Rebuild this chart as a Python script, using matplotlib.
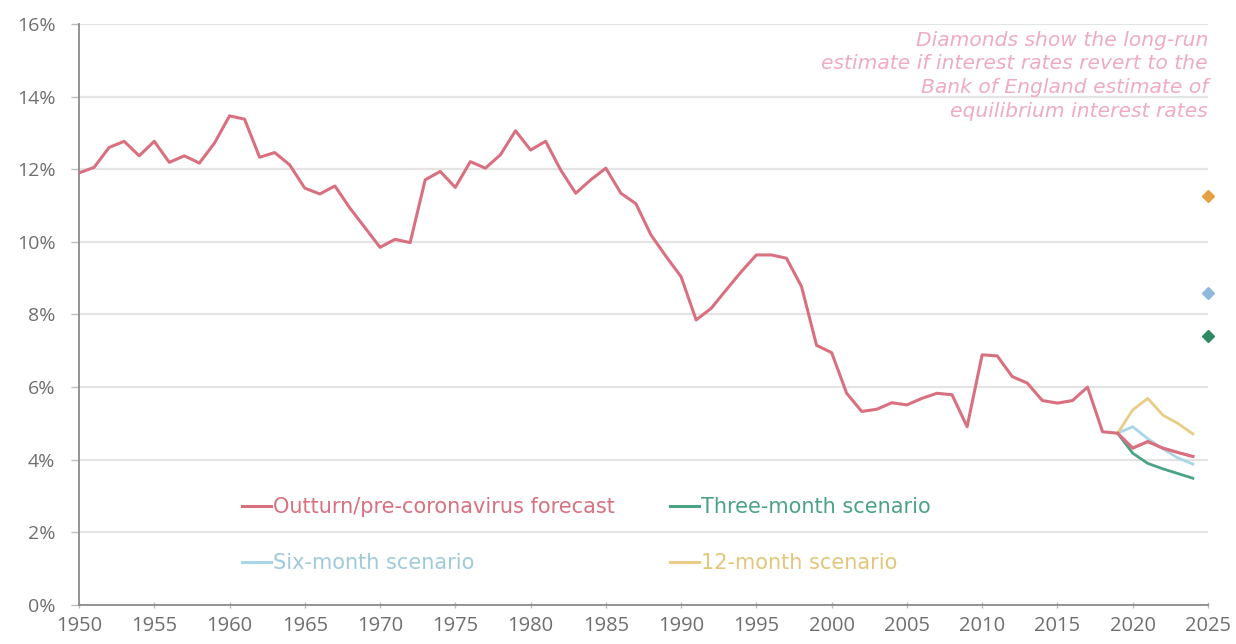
import matplotlib
matplotlib.use("Agg")
import matplotlib.pyplot as plt
from matplotlib.lines import Line2D

# Outturn / pre-coronavirus forecast, 1950-2024 (%)
years = list(range(1950, 2025))
outturn = [11.9, 12.05, 12.6, 12.77, 12.37, 12.77, 12.19, 12.37, 12.17, 12.72,
           13.47, 13.38, 12.33, 12.46, 12.12, 11.48, 11.32, 11.54, 10.93, 10.39,
           9.85, 10.07, 9.98, 11.71, 11.94, 11.5, 12.21, 12.03, 12.4, 13.06,
           12.53, 12.77, 11.98, 11.34, 11.71, 12.03, 11.34, 11.05, 10.19, 9.6,
           9.04, 7.85, 8.17, 8.68, 9.18, 9.64, 9.64, 9.55, 8.77, 7.15,
           6.95, 5.83, 5.33, 5.39, 5.57, 5.51, 5.69, 5.83, 5.79, 4.91,
           6.89, 6.86, 6.29, 6.11, 5.63, 5.56, 5.63, 6.0, 4.77, 4.73,
           4.32, 4.5, 4.32, 4.2, 4.09]

# Scenario paths, 2019-2024
scen_years = [2019, 2020, 2021, 2022, 2023, 2024]
three_month = [4.73, 4.18, 3.9, 3.75, 3.62, 3.49]
six_month = [4.73, 4.91, 4.58, 4.3, 4.05, 3.88]
twelve_month = [4.73, 5.37, 5.69, 5.23, 5.0, 4.71]

# Long-run estimates (diamonds) in 2025
diamond_year = 2025
diamond_twelve = 11.27
diamond_six = 8.6
diamond_three = 7.41

x_ticks = list(range(1950, 2026, 5))
y_ticks = list(range(0, 17, 2))

RED = "#d9707f"
GREEN = "#4aa383"
GREEN_DARK = "#2f8a62"
BLUE = "#a9d6e6"
BLUE_DOT = "#8fb8dc"
TAN = "#e9cc86"
ORANGE = "#e5a043"
PINK_TEXT = "#eeabc3"
GRID = "#e4e4e4"
AXIS = "#8a8a8a"
TICK_TEXT = "#6f6f6f"

fig = plt.figure(figsize=(12.36, 6.44), dpi=100)
ax = fig.add_axes([0.0639, 0.0606, 0.9134, 0.9021])

ax.set_xlim(1950, 2025)
ax.set_ylim(0, 16)

for yv in y_ticks:
    if yv > 0:
        ax.axhline(yv, color=GRID, lw=1.6, zorder=0)

ax.plot(years, outturn, color=RED, lw=2.2, zorder=3, solid_joinstyle="round")
ax.plot(scen_years, six_month, color=BLUE, lw=2.0, zorder=2)
ax.plot(scen_years, twelve_month, color=TAN, lw=2.0, zorder=2)
ax.plot(scen_years, three_month, color=GREEN, lw=2.0, zorder=2)
ax.plot(years[-6:], outturn[-6:], color=RED, lw=2.0, zorder=4, alpha=0.8)

ax.plot([diamond_year], [diamond_twelve], marker="D", ms=6, color=ORANGE,
        clip_on=False, zorder=5)
ax.plot([diamond_year], [diamond_six], marker="D", ms=6, color=BLUE_DOT,
        clip_on=False, zorder=5)
ax.plot([diamond_year], [diamond_three], marker="D", ms=6, color=GREEN_DARK,
        clip_on=False, zorder=5)

ax.set_xticks(x_ticks)
ax.set_xticklabels([str(v) for v in x_ticks])
ax.set_yticks(y_ticks)
ax.set_yticklabels([f"{v}%" for v in y_ticks])

for side in ("top", "right"):
    ax.spines[side].set_visible(False)
for side in ("left", "bottom"):
    ax.spines[side].set_color(AXIS)
    ax.spines[side].set_linewidth(1.3)

ax.tick_params(axis="y", length=6, width=1, color="#bdbdbd", labelsize=14,
               labelcolor=TICK_TEXT, pad=11)
ax.tick_params(axis="x", length=4, width=1, direction="inout", color="#bdbdbd",
               labelsize=14.5, labelcolor=TICK_TEXT, pad=6)
for lab in ax.get_xticklabels() + ax.get_yticklabels():
    lab.set_fontfamily("Open Sans")

ax.text(2025, 15.82,
        "Diamonds show the long-run\nestimate if interest rates revert to the\n"
        "Bank of England estimate of\nequilibrium interest rates",
        ha="right", va="top", fontsize=14.6, style="italic", color=PINK_TEXT,
        family="DejaVu Sans", linespacing=1.32)

# Legend laid out row by row: outturn / three-month, then six-month / 12-month
handles = [
    Line2D([], [], color=RED, lw=2.2),
    Line2D([], [], color=BLUE, lw=2.2),
    Line2D([], [], color=GREEN, lw=2.2),
    Line2D([], [], color=TAN, lw=2.2),
]
labels = ["Outturn/pre-coronavirus forecast", "Six-month scenario",
          "Three-month scenario", "12-month scenario"]
text_colors = [RED, "#9fcadb", GREEN, "#e3c67a"]
leg = ax.legend(handles, labels, ncol=2, loc="lower left",
                bbox_to_anchor=(0.128, 0.022), frameon=False,
                handlelength=1.4, handletextpad=0.1, columnspacing=2.6,
                labelspacing=1.75, prop={"family": "DejaVu Sans", "size": 15})
for txt, col in zip(leg.get_texts(), text_colors):
    txt.set_color(col)

fig.savefig("out.png", dpi=100, facecolor="white")
